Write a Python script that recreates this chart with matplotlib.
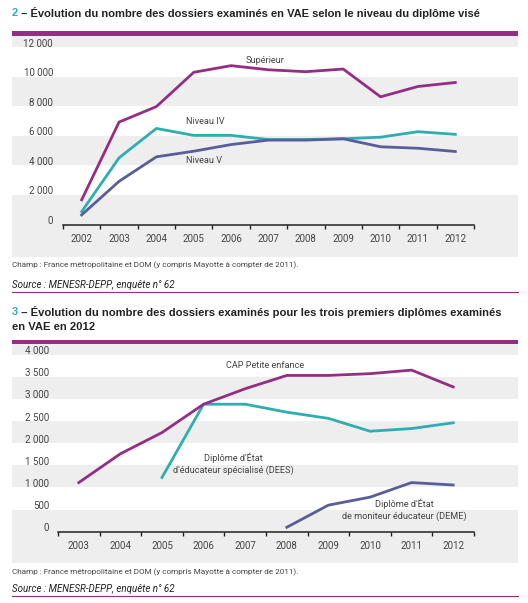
import matplotlib
matplotlib.use('Agg')
import matplotlib.pyplot as plt
import numpy as np
from matplotlib import font_manager
from matplotlib.patches import Rectangle
from matplotlib.lines import Line2D
from matplotlib.transforms import blended_transform_factory, ScaledTranslation

# graphique 2 : dossiers examinés selon le niveau du diplôme
years1 = ['2002', '2003', '2004', '2005', '2006', '2007', '2008', '2009', '2010', '2011', '2012']
superieur = [1670, 6930, 7980, 10300, 10750, 10470, 10340, 10520, 8640, 9340, 9610]
niveau_iv = [870, 4510, 6500, 6030, 6030, 5750, 5750, 5800, 5910, 6280, 6100]
niveau_v = [650, 2920, 4580, 4960, 5410, 5710, 5710, 5800, 5260, 5160, 4940]
yticks1 = [0, 2000, 4000, 6000, 8000, 10000, 12000]
ylabels1 = ['0', '2 000', '4 000', '6 000', '8 000', '10 000', '12 000']

# graphique 3 : trois premiers diplômes examinés
years2 = ['2003', '2004', '2005', '2006', '2007', '2008', '2009', '2010', '2011', '2012']
cap = [1110, 1760, 2240, 2880, 3230, 3530, 3530, 3570, 3650, 3270]
dees = [np.nan, np.nan, 1225, 2880, 2880, 2700, 2560, 2270, 2330, 2460]
deme = [np.nan, np.nan, np.nan, np.nan, np.nan, 100, 600, 780, 1110, 1055]
yticks2 = [0, 500, 1000, 1500, 2000, 2500, 3000, 3500, 4000]
ylabels2 = ['0', '500', '1 000', '1 500', '2 000', '2 500', '3 000', '3 500', '4 000']

champ = 'Champ : France métropolitaine et DOM (y compris Mayotte à compter de 2011).'
source = 'Source : MENESR-DEPP, enquête n° 62'

PURPLE = '#952d84'
TEAL = '#2eaeb1'
NAVY = '#5b5d9b'
BAND = '#eeeeee'
TXT = '#444444'
BOLD = ['Liberation Sans', 'DejaVu Sans']

# police étroite si disponible
names = {(f.name, f.stretch) for f in font_manager.fontManager.ttflist}
NARROW, STRETCH, NSCALE = ['Roboto', 'DejaVu Sans'], 'normal', 0.92
for nm, st, sc in [('Liberation Sans Narrow', 'normal', 1.0), ('Roboto Condensed', 'normal', 1.0)]:
    if (nm, st) in names:
        NARROW, STRETCH, NSCALE = [nm, 'DejaVu Sans'], st, sc
        break

W, H = 528, 603
fig = plt.figure(figsize=(W / 100, H / 100), dpi=100)
renderer = fig.canvas.get_renderer()


def fx(x):
    return x / W


def fy(y):
    return 1 - y / H


def fit(t, target_px):
    # ajuste la taille pour retrouver la largeur du texte d'origine
    w = t.get_window_extent(renderer).width
    t.set_fontsize(t.get_fontsize() * target_px / w)


def ntext(x, y, s, size, **kw):
    return fig.text(x, y, s, fontsize=size * NSCALE, family=NARROW, fontstretch=STRETCH, **kw)


def panel(ax, pleft, pright, bar_top, bar_bot, panel_bot, axis_y, step, top):
    trans = blended_transform_factory(fig.transFigure, ax.transData)
    v = 0
    gray = True
    while v < top:
        if gray:
            ax.add_patch(Rectangle((fx(pleft), v), fx(pright) - fx(pleft), min(step, top - v),
                                   transform=trans, color=BAND, lw=0, zorder=0, clip_on=False))
        v += step
        gray = not gray
    ax.add_patch(Rectangle((fx(pleft), fy(panel_bot)), fx(pright) - fx(pleft), fy(axis_y) - fy(panel_bot),
                           transform=fig.transFigure, color=BAND, lw=0, zorder=0, clip_on=False))
    ax.add_patch(Rectangle((fx(pleft), fy(bar_bot)), fx(pright) - fx(pleft), fy(bar_top) - fy(bar_bot),
                           transform=fig.transFigure, color=PURPLE, lw=0, zorder=0, clip_on=False))


def style_axes(ax, n, yticks, ylabels, top, label_pad_px):
    ax.set_facecolor('none')
    ax.set_xlim(-0.5, n - 0.5)
    ax.set_ylim(0, top)
    for s in ['top', 'right', 'left']:
        ax.spines[s].set_visible(False)
    ax.spines['bottom'].set_color('#222222')
    ax.spines['bottom'].set_linewidth(1.1)
    ax.spines['bottom'].set_zorder(1)
    ax.set_xticks(np.arange(n))
    ax.set_xticks(np.arange(n + 1) - 0.5, minor=True)
    ax.tick_params(axis='x', which='major', length=0, pad=7, labelsize=7.6 * NSCALE, labelcolor=TXT)
    ax.tick_params(axis='x', which='minor', length=3, width=1, color='#222222', direction='out')
    ax.set_yticks(yticks)
    ax.set_yticklabels(ylabels)
    ax.tick_params(axis='y', length=0, pad=label_pad_px * 0.72, labelsize=7.6 * NSCALE, labelcolor=TXT)
    off = ScaledTranslation(0, 4.5 / 100, fig.dpi_scale_trans)
    for lab in ax.get_yticklabels():
        lab.set_transform(lab.get_transform() + off)
        lab.set_family(NARROW)
        lab.set_fontstretch(STRETCH)


def footer(y_champ, y_source, y_line):
    t = ntext(fx(12), fy(y_champ), champ, 6.5, color=TXT, va='center')
    fit(t, 285)
    t = ntext(fx(12), fy(y_source), source, 6.8, color='#222222', style='italic', va='center')
    fit(t, 162)
    fig.add_artist(Line2D([fx(12), fx(518)], [fy(y_line), fy(y_line)], color=PURPLE, lw=0.8))


def series_label(ax, x, y, s):
    ax.text(x, y, s, fontsize=7.2 * NSCALE, color=TXT, family=NARROW, fontstretch=STRETCH,
            ha='center', va='center', linespacing=1.35)


# ---------- graphique 2 ----------
top1 = 12790
ax1 = fig.add_axes([fx(63), fy(224.5), fx(474) - fx(63), fy(35.5) - fy(224.5)])
panel(ax1, 12, 518, 31, 35.5, 257, 224.5, 2000, top1)
ax1.set_xticks(np.arange(len(years1)))
ax1.set_xticklabels(years1, family=NARROW, fontstretch=STRETCH)
style_axes(ax1, len(years1), yticks1, ylabels1, top1, 10)
x1 = np.arange(len(years1))
ax1.plot(x1, niveau_iv, color=TEAL, lw=2, zorder=3)
ax1.plot(x1, niveau_v, color=NAVY, lw=2, zorder=4)
ax1.plot(x1, superieur, color=PURPLE, lw=2, zorder=3)
series_label(ax1, 4.91, 11130, 'Supérieur')
series_label(ax1, 3.3, 7000, 'Niveau IV')
series_label(ax1, 3.27, 4320, 'Niveau V')

t1 = fig.text(fx(12), fy(13), '2', color=TEAL, fontsize=8.0, fontweight='bold', family=BOLD, va='center')
a1 = ax1.annotate(' – Évolution du nombre des dossiers examinés en VAE selon le niveau du diplôme visé',
                  xy=(1, 0.5), xycoords=t1, va='center', ha='left', fontsize=8.0, fontweight='bold',
                  family=BOLD, color='#222222', annotation_clip=False)
footer(265.5, 285, 291.5)

# ---------- graphique 3 ----------
top2 = 4240
ax2 = fig.add_axes([fx(58), fy(531.7), fx(474) - fx(58), fy(344) - fy(531.7)])
panel(ax2, 12, 518, 339.5, 344, 563, 531.7, 500, top2)
ax2.set_xticks(np.arange(len(years2)))
ax2.set_xticklabels(years2, family=NARROW, fontstretch=STRETCH)
style_axes(ax2, len(years2), yticks2, ylabels2, top2, 9)
x2 = np.arange(len(years2))
ax2.plot(x2, dees, color=TEAL, lw=2, zorder=3)
ax2.plot(x2, cap, color=PURPLE, lw=2, zorder=4)
ax2.plot(x2, deme, color=NAVY, lw=2, zorder=3)
series_label(ax2, 4.48, 3760, 'CAP Petite enfance')
series_label(ax2, 3.71, 1534, 'Diplôme d\'État\nd\'éducateur spécialisé (DEES)')
series_label(ax2, 7.82, 495, 'Diplôme d\'État\nde moniteur éducateur (DEME)')

t2 = fig.text(fx(12), fy(311.7), '3', color=TEAL, fontsize=8.1, fontweight='bold', family=BOLD, va='center')
a2 = ax2.annotate(' – Évolution du nombre des dossiers examinés pour les trois premiers diplômes examinés',
                  xy=(1, 0.5), xycoords=t2, va='center', ha='left', fontsize=8.1, fontweight='bold',
                  family=BOLD, color='#222222', annotation_clip=False)
fig.text(fx(12), fy(327), 'en VAE en 2012', fontsize=8.1, fontweight='bold', family=BOLD,
         color='#222222', va='center')
footer(572.3, 589, 596)

fig.savefig('out.png', dpi=100, facecolor='white')
